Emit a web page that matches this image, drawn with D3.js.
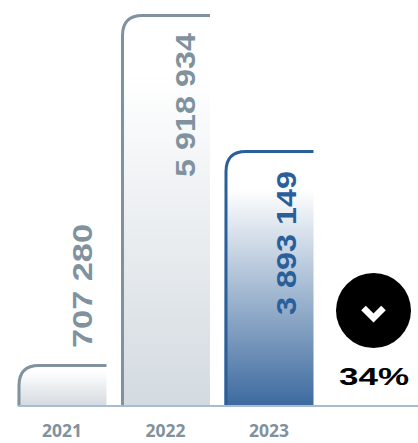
<!DOCTYPE html>
<html>
<head>
<meta charset="utf-8">
<script src="https://cdn.jsdelivr.net/npm/d3@7"></script>
<style>
html, body { margin: 0; padding: 0; background: #fff; }
svg { display: block; }
</style>
</head>
<body>
<div id="chart"></div>
<script>
const years = ["2021", "2022", "2023"];
const values = [707280, 5918934, 3893149];
const valueLabels = ["707 280", "5 918 934", "3 893 149"];
const changeLabel = "34%";

const width = 418;
const height = 443;
const baseline = 406;
const radius = 20;

const strokeColors = ["#7f929e", "#7f929e", "#2a5f9a"];
const bottomColors = ["#d3dae0", "#d3dae0", "#3c6a9f"];
const labelColors = ["#7f929e", "#7f929e", "#2a5f9a"];

const x = d3.scaleBand().domain(years).range([17.5, 313.5]).paddingInner(0.14);
// the picture's bars do not start from zero
const y = d3.scaleLinear().domain([96780, 5918934]).range([baseline, 15]);

const svg = d3.select("#chart").append("svg")
    .attr("width", width)
    .attr("height", height);

const defs = svg.append("defs");
years.forEach(function (yr, i) {
    const grad = defs.append("linearGradient")
        .attr("id", "grad" + yr)
        .attr("x1", 0).attr("y1", 0).attr("x2", 0).attr("y2", 1);
    grad.append("stop").attr("offset", "0%").attr("stop-color", "#fff");
    grad.append("stop").attr("offset", "15%").attr("stop-color", "#fff");
    grad.append("stop").attr("offset", "100%").attr("stop-color", bottomColors[i]);
});

const bars = svg.selectAll(".bar")
    .data(values)
    .enter()
    .append("g")
    .attr("class", "bar");

bars.append("path")
    .attr("fill", function (d, i) { return "url(#grad" + years[i] + ")"; })
    .attr("d", function (d, i) {
        const x0 = x(years[i]), x1 = x0 + x.bandwidth(), t = y(d);
        return "M" + x0 + "," + baseline + "V" + (t + radius) + "Q" + x0 + "," + t + " " + (x0 + radius) + "," + t + "H" + x1 + "V" + baseline + "Z";
    });

bars.append("path")
    .attr("fill", "none")
    .attr("stroke", function (d, i) { return strokeColors[i]; })
    .attr("stroke-width", 3)
    .attr("d", function (d, i) {
        const x0 = x(years[i]) + 1.5, x1 = x(years[i]) + x.bandwidth(), t = y(d) + 0.5;
        return "M" + x0 + "," + baseline + "V" + (t + radius) + "Q" + x0 + "," + t + " " + (x0 + radius) + "," + t + "H" + x1;
    });

// value labels, read bottom to top
const textDy = [-17, 162, 164];
const textDx = [74, 74, 72];
const textLength = [124, 144, 144];
bars.append("text")
    .attr("transform", function (d, i) {
        const tx = x(years[i]) + textDx[i];
        const ty = y(d) + textDy[i];
        return "translate(" + tx + "," + ty + ") rotate(-90)";
    })
    .attr("font-family", "Liberation Sans")
    .attr("font-weight", 700)
    .attr("font-size", 27)
    .attr("textLength", function (d, i) { return textLength[i]; })
    .attr("lengthAdjust", "spacingAndGlyphs")
    .attr("fill", function (d, i) { return labelColors[i]; })
    .text(function (d, i) { return valueLabels[i]; });

// axis line
const axis = d3.axisBottom(x).tickSize(0).tickPadding(15);
const axisG = svg.append("g")
    .attr("transform", "translate(0," + baseline + ")")
    .call(axis);
axisG.select(".domain").remove();
axisG.selectAll("text")
    .attr("font-family", "Noto Sans")
    .attr("font-weight", 700)
    .attr("font-size", 17.5)
    .attr("dy", "0.9em")
    .attr("fill", "#7f929e");
svg.append("line")
    .attr("x1", 18).attr("x2", width)
    .attr("y1", baseline).attr("y2", baseline)
    .attr("stroke", "#a9bbcf")
    .attr("stroke-width", 2);

// change badge
svg.append("circle")
    .attr("cx", 373.5).attr("cy", 310.5).attr("r", 37.5)
    .attr("fill", "#000");
svg.append("path")
    .attr("d", "M363.5,308L373.5,318L383.5,308")
    .attr("fill", "none")
    .attr("stroke", "#fff")
    .attr("stroke-width", 6.5);
svg.append("text")
    .attr("x", 374).attr("y", 385)
    .attr("text-anchor", "middle")
    .attr("font-family", "Liberation Sans")
    .attr("font-weight", 700)
    .attr("font-size", 24)
    .attr("textLength", 70)
    .attr("lengthAdjust", "spacingAndGlyphs")
    .attr("fill", "#000")
    .text(changeLabel);
</script>
</body>
</html>
